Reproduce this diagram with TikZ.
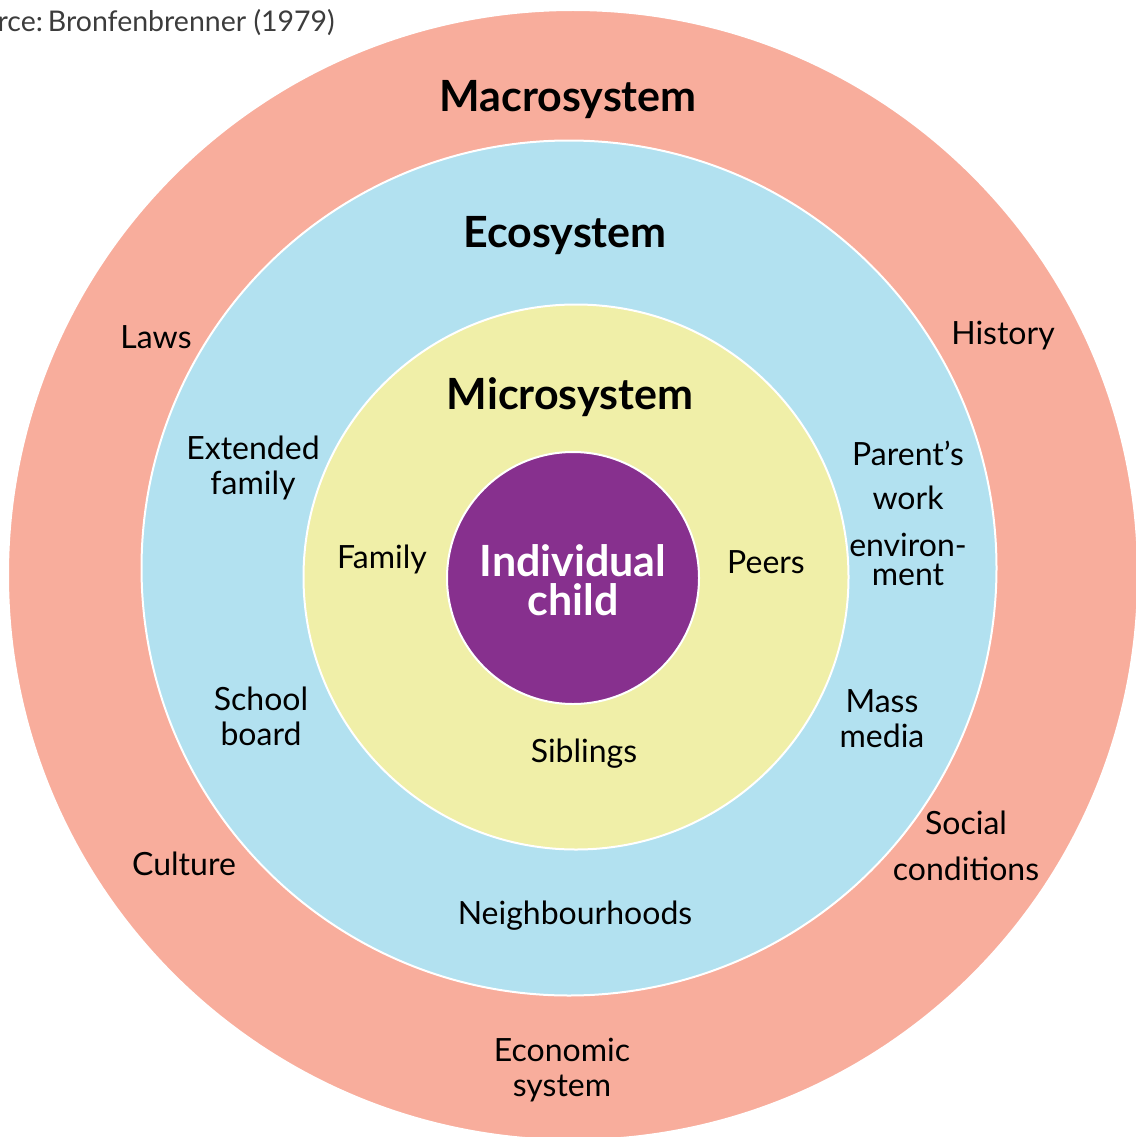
\documentclass[tikz,border=0pt]{standalone}
\usepackage{fontspec}
\setmainfont{Lato}
\definecolor{macro}{RGB}{248,173,156}
\definecolor{eco}{RGB}{178,225,240}
\definecolor{micro}{RGB}{240,239,168}
\definecolor{child}{RGB}{135,48,142}
\definecolor{srcgray}{RGB}{60,60,60}
\tikzset{
  ring/.style={circle, draw=white, line width=2pt, inner sep=0pt},
  lbl/.style={font=\fontsize{32}{35}\selectfont, align=center, text=black, inner sep=0pt},
  title/.style={font=\fontsize{43}{48}\selectfont\bfseries, text=black, inner sep=0pt},
}
\begin{document}
\begin{tikzpicture}[x=1pt,y=-1pt]
\useasboundingbox (0,0) rectangle (1135,1137);
\node[ring, fill=macro, minimum size=1130pt] (macro) at (573,575) {};
\node[ring, fill=eco, minimum size=855pt] (eco) at (569,568) {};
\node[ring, fill=micro, minimum size=545pt] (micro) at (576,577) {};
\node[ring, fill=child, minimum size=252pt] (child) at (573,578) {};
\node[font=\fontsize{43}{39}\selectfont\bfseries, text=white, align=center, inner sep=0pt] (childlbl) at (573,580) {Individual\\child};
\node[anchor=base east, font=\fontsize{28.5}{34}\selectfont, text=srcgray, inner sep=0pt] (src) at (335,32) {Source:\hspace{5pt}Bronfenbrenner (1979)};
\node[title] (tmacro) at (568,100) {Macrosystem};
\node[title] (teco) at (565,236) {Ecosystem};
\node[title] (tmicro) at (570,397) {Microsystem};
\node[lbl] (laws) at (156,337) {Laws};
\node[lbl] (history) at (1003,336) {History};
\node[lbl] (extfam) at (253,468) {Extended\\family};
\node[lbl] (parent) at (908,513) {Parent’s\\[9pt]work\\[12pt]environ-\\[-6pt]ment};
\node[lbl] (family) at (382,559) {Family};
\node[lbl] (peers) at (766,562) {Peers};
\node[lbl] (school) at (261,716) {School\\board};
\node[lbl] (mass) at (882,719) {Mass\\media};
\node[lbl] (siblings) at (584,754) {Siblings};
\node[lbl] (social) at (966,846) {Social\\[11pt]conditions};
\node[lbl] (culture) at (184,864) {Culture};
\node[lbl] (neigh) at (575,916) {Neighbourhoods};
\node[lbl] (econ) at (562,1070) {Economic\\system};
\end{tikzpicture}
\end{document}
